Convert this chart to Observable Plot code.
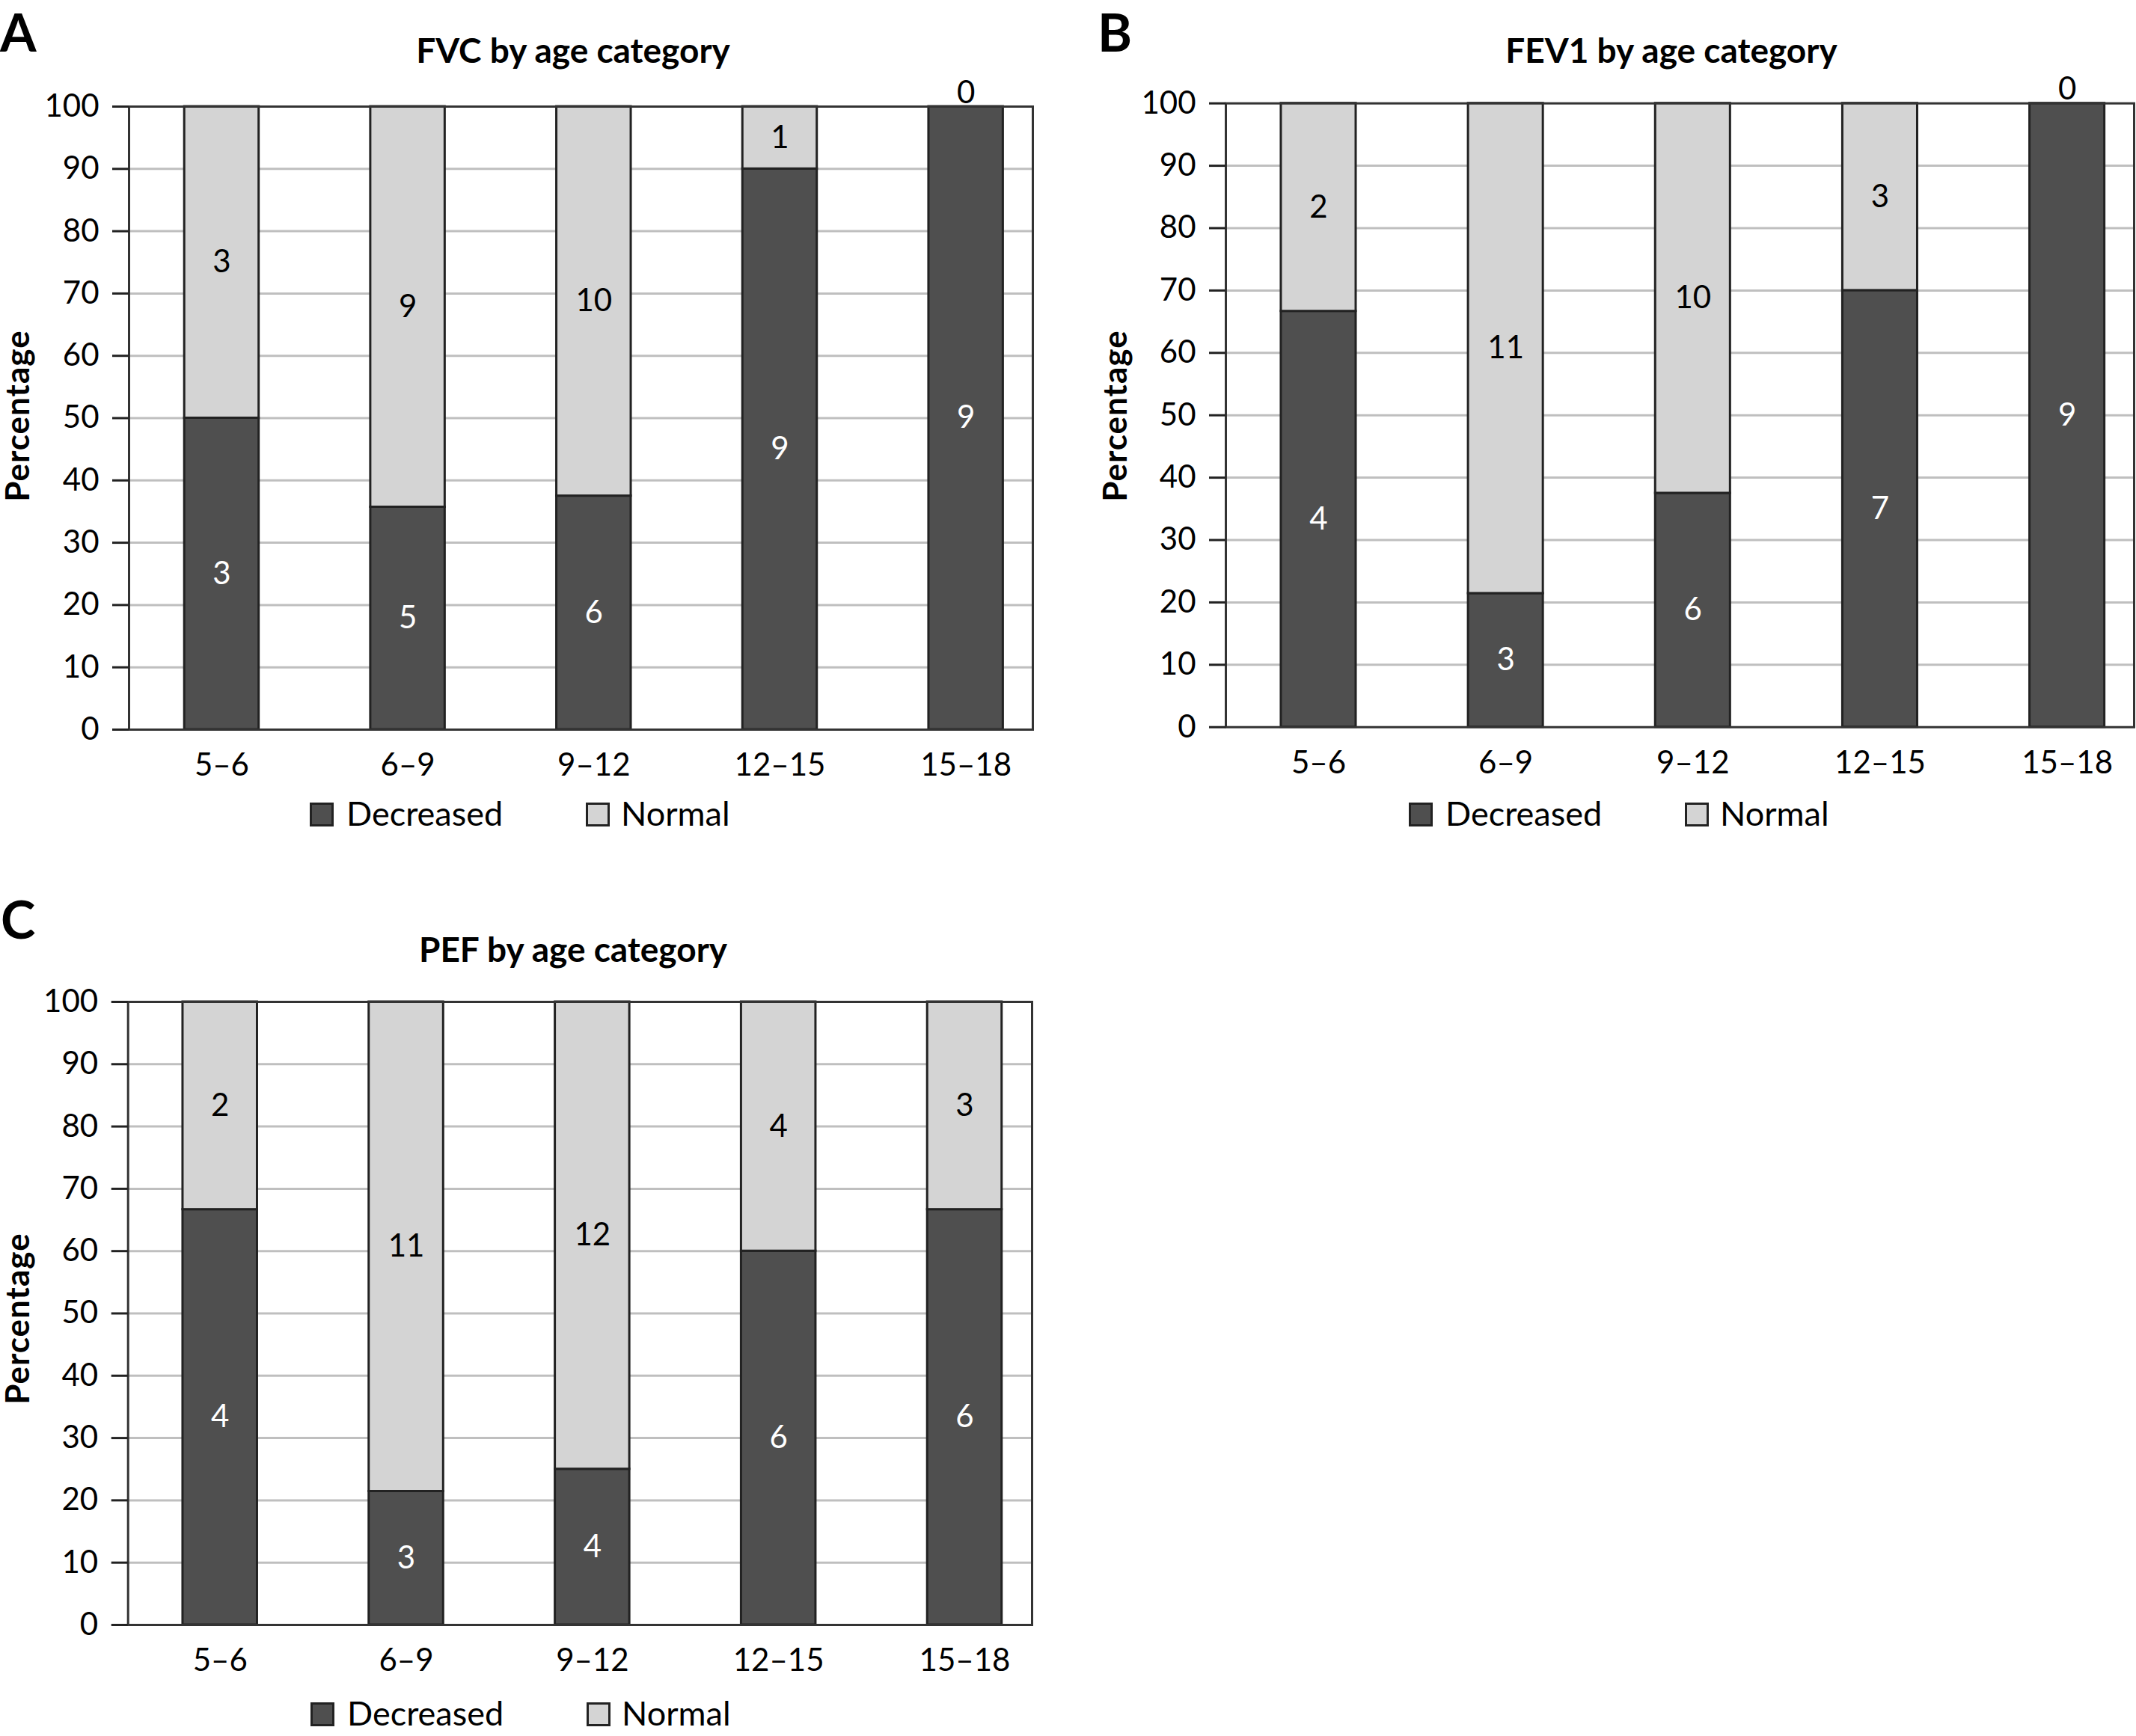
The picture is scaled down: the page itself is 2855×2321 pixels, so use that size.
<!DOCTYPE html>
<html>
<head>
<meta charset="utf-8">
<script src="https://cdn.jsdelivr.net/npm/d3@7"></script>
<script src="https://cdn.jsdelivr.net/npm/@observablehq/plot@0.6"></script>
<style>
  html, body { margin: 0; padding: 0; background: #fff; }
  body { width: 2855px; height: 2321px; position: relative; overflow: hidden; font-family: Lato, "Open Sans", sans-serif; color: #000; }
  .abs { position: absolute; white-space: nowrap; line-height: 1; }
  .letter { font-weight: 700; font-size: 70px; line-height: normal; }
  .title { font-weight: 700; font-size: 46px; transform: translateX(-50%); }
  .ylab { font-weight: 700; font-size: 44px; letter-spacing: 1px; transform: translate(-50%, -50%) rotate(-90deg); }
  .legtext { font-size: 45px; }
  .sw { position: absolute; width: 26px; height: 26px; border: 3px solid #222; }
  .panel { position: absolute; }
</style>
</head>
<body>
<script>
// ---- data ----
const ageGroups = ["5–6", "6–9", "9–12", "12–15", "15–18"];
const statuses = ["Decreased", "Normal"];
const fvcDecreased = [3, 5, 6, 9, 9];
const fvcNormal = [3, 9, 10, 1, 0];
const fev1Decreased = [4, 3, 6, 7, 9];
const fev1Normal = [2, 11, 10, 3, 0];
const pefDecreased = [4, 3, 4, 6, 6];
const pefNormal = [2, 11, 12, 4, 3];
const yTicks = [0, 10, 20, 30, 40, 50, 60, 70, 80, 90, 100];
const titles = ["FVC by age category", "FEV1 by age category", "PEF by age category"];
const letters = ["A", "B", "C"];

const DARK = "#4f4f4f", LIGHT = "#d4d4d4";

function rows(dec, nor) {
  return ageGroups.flatMap((age, i) => {
    const total = dec[i] + nor[i];
    const d = dec[i] / total * 100;
    const n = nor[i] / total * 100;
    return [
      {age, status: statuses[0], count: dec[i], y1: 0, y2: d},
      {age, status: statuses[1], count: nor[i], y1: d, y2: d + n}
    ];
  });
}

function addDiv(cls, text, style) {
  const el = document.createElement("div");
  el.className = "abs " + cls;
  el.textContent = text;
  Object.assign(el.style, style);
  document.body.appendChild(el);
  return el;
}

function panel(p) {
  const data = rows(p.dec, p.nor);
  const svg = Plot.plot({
    width: p.width, height: p.height,
    marginLeft: p.L, marginRight: p.width - p.R, marginTop: p.T, marginBottom: p.height - p.B,
    style: {background: "transparent", overflow: "visible", fontFamily: "Lato, 'Open Sans', sans-serif", color: "#000", maxWidth: "none"},
    x: {domain: ageGroups, range: [p.r0, p.r1], paddingInner: 0.6, paddingOuter: 0.3, round: false, axis: null, label: null},
    y: {domain: [0, 100], axis: null, label: null},
    color: {domain: statuses, range: [DARK, LIGHT]},
    marks: [
      Plot.gridY({ticks: yTicks.slice(1, -1), stroke: "#bfbfbf", strokeWidth: 3, strokeOpacity: 1}),
      Plot.barY(data, {x: "age", y1: "y1", y2: "y2", fill: "status", stroke: "#222", strokeWidth: 3}),
      Plot.frame({stroke: "#333", strokeWidth: 3}),
      Plot.axisY({ticks: yTicks, tickSize: 22, tickPadding: 18, fontSize: 42, stroke: "#222", strokeWidth: 3, fill: "#000", tickFormat: d => d, label: null}),
      Plot.axisX({tickSize: 0, tickPadding: 32, fontSize: 42, fill: "#000", label: null}),
      Plot.text(data.filter(d => d.count > 0 && d.status === statuses[0]),
        {x: "age", y: d => (d.y1 + d.y2) / 2, text: d => String(d.count), fill: "#fff", fontSize: 42}),
      Plot.text(data.filter(d => d.count > 0 && d.status === statuses[1]),
        {x: "age", y: d => (d.y1 + d.y2) / 2, text: d => String(d.count), fill: "#000", fontSize: 42}),
      Plot.text(data.filter(d => d.count === 0),
        {x: "age", y: "y2", text: d => String(d.count), fill: "#000", fontSize: 42, lineAnchor: "bottom", dy: -5})
    ]
  });
  const wrap = document.createElement("div");
  wrap.className = "panel";
  Object.assign(wrap.style, {left: p.left + "px", top: p.top + "px", width: p.width + "px", height: p.height + "px"});
  wrap.appendChild(svg);
  document.body.appendChild(wrap);

  // letter, title, y label, legend
  addDiv("letter", p.letter, {left: p.letterX + "px", top: p.letterY + "px"});
  addDiv("title", p.title, {left: p.titleX + "px", top: p.titleY + "px"});
  addDiv("ylab", "Percentage", {left: p.ylabX + "px", top: p.ylabY + "px"});
  const sw1 = document.createElement("div");
  sw1.className = "sw";
  Object.assign(sw1.style, {left: p.legX + "px", top: p.legY + "px", background: DARK});
  document.body.appendChild(sw1);
  addDiv("legtext", statuses[0], {left: (p.legX + 49) + "px", top: (p.legY - 8) + "px"});
  const sw2 = document.createElement("div");
  sw2.className = "sw";
  Object.assign(sw2.style, {left: (p.legX + 369) + "px", top: p.legY + "px", background: LIGHT});
  document.body.appendChild(sw2);
  addDiv("legtext", statuses[1], {left: (p.legX + 416) + "px", top: (p.legY - 8) + "px"});
}

panel({dec: fvcDecreased, nor: fvcNormal, title: titles[0], letter: letters[0],
  left: 0, top: 0, width: 1430, height: 1080,
  L: 172, R: 1380, T: 142, B: 975, r0: 171.6, r1: 1415,
  letterX: 0, letterY: 0, titleX: 766, titleY: 44, ylabX: 22, ylabY: 556,
  legX: 414, legY: 1073});

panel({dec: fev1Decreased, nor: fev1Normal, title: titles[1], letter: letters[1],
  left: 1440, top: 0, width: 1415, height: 1080,
  L: 198, R: 1412, T: 137.7, B: 971.7, r0: 196.9, r1: 1447.7,
  letterX: 1467, letterY: 0, titleX: 2234, titleY: 44, ylabX: 1489, ylabY: 556,
  legX: 1883, legY: 1073});

panel({dec: pefDecreased, nor: pefNormal, title: titles[2], letter: letters[2],
  left: 0, top: 1197, width: 1430, height: 1080,
  L: 170.7, R: 1379, T: 142, B: 975, r0: 169.3, r1: 1413.4,
  letterX: 1, letterY: 1186, titleX: 766, titleY: 1246, ylabX: 22, ylabY: 1763,
  legX: 415, legY: 2276});
</script>
</body>
</html>
